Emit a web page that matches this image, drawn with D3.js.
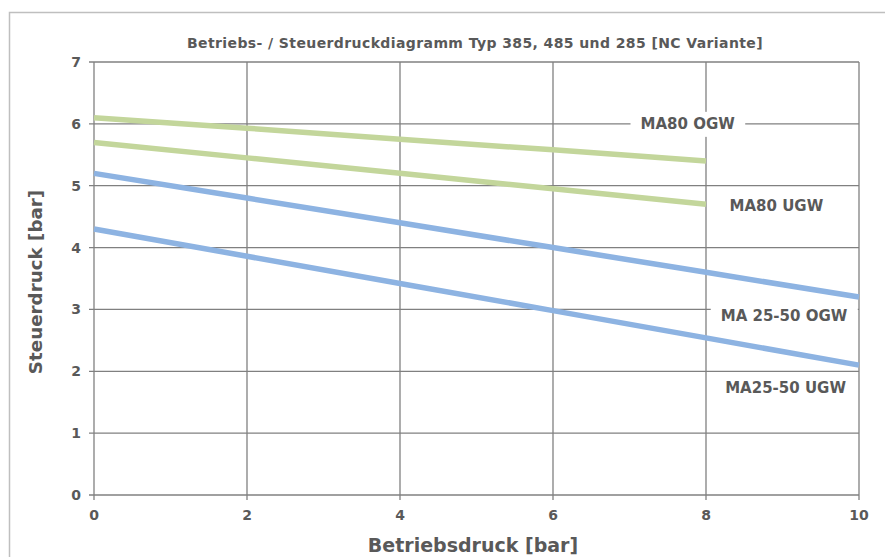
<!DOCTYPE html>
<html>
<head>
<meta charset="utf-8">
<script src="https://cdn.jsdelivr.net/npm/d3@7"></script>
<style>
  body { margin: 0; background: #fff; }
  text { font-family: "DejaVu Sans", sans-serif; font-weight: bold; fill: #595959; }
</style>
</head>
<body>
<div id="chart"></div>
<script>
// Daten
const xWerte = [0, 2, 4, 6, 8, 10];
const ma80OGW = [6.1, 5.93, 5.75, 5.58, 5.4];
const ma80UGW = [5.7, 5.45, 5.2, 4.95, 4.7];
const ma2550OGW = [5.2, 4.8, 4.4, 4.0, 3.6, 3.2];
const ma2550UGW = [4.3, 3.86, 3.42, 2.98, 2.54, 2.1];
const xTicks = [0, 2, 4, 6, 8, 10];
const yTicks = [0, 1, 2, 3, 4, 5, 6, 7];
const serien = [
  { name: "MA80 OGW", werte: ma80OGW, farbe: "#c3d69b" },
  { name: "MA80 UGW", werte: ma80UGW, farbe: "#c3d69b" },
  { name: "MA 25-50 OGW", werte: ma2550OGW, farbe: "#8db3e2" },
  { name: "MA25-50 UGW", werte: ma2550UGW, farbe: "#8db3e2" }
];
// Beschriftung der Linien (Position in Datenkoordinaten)
const labels = [
  { text: "MA80 OGW", x: 7.76, y: 6.0, box: true },
  { text: "MA80 UGW", x: 8.92, y: 4.68 },
  { text: "MA 25-50 OGW", x: 9.02, y: 2.9, box: true },
  { text: "MA25-50 UGW", x: 9.04, y: 1.74 }
];

const width = 885, height = 557;
const margin = { top: 62, right: 26, bottom: 62, left: 94 };

const svg = d3.select("#chart").append("svg").attr("width", width).attr("height", height);

// Rahmen
svg.append("path")
  .attr("d", "M9.5," + height + "V12.5H" + width)
  .attr("fill", "none").attr("stroke", "#bfbfbf").attr("stroke-width", 1.5);

const xScale = d3.scaleLinear().domain([0, 10]).range([margin.left, width - margin.right]);
const yScale = d3.scaleLinear().domain([0, 7]).range([height - margin.bottom, margin.top]);

// Gitter
svg.append("g").selectAll("line").data(yTicks).enter().append("line")
  .attr("x1", xScale(0) - 5).attr("x2", xScale(10))
  .attr("y1", d => yScale(d)).attr("y2", d => yScale(d))
  .attr("stroke", "#808080").attr("stroke-width", 1.3);
svg.append("g").selectAll("line").data(xTicks).enter().append("line")
  .attr("x1", d => xScale(d)).attr("x2", d => xScale(d))
  .attr("y1", yScale(7)).attr("y2", yScale(0) + 5)
  .attr("stroke", "#808080").attr("stroke-width", 1.3);

// Achsenbeschriftung
svg.append("g").selectAll("text").data(yTicks).enter().append("text")
  .attr("x", xScale(0) - 13).attr("y", d => yScale(d)).attr("dy", "0.36em")
  .attr("text-anchor", "end").attr("font-size", "14px").text(d => d);
svg.append("g").selectAll("text").data(xTicks).enter().append("text")
  .attr("x", d => xScale(d)).attr("y", yScale(0) + 25)
  .attr("text-anchor", "middle").attr("font-size", "14px").text(d => d);

// Linien
const line = d3.line().x((d, i) => xScale(xWerte[i])).y(d => yScale(d));
svg.append("g").selectAll("path").data(serien).enter().append("path")
  .attr("d", d => line(d.werte))
  .attr("fill", "none").attr("stroke", d => d.farbe).attr("stroke-width", 5.5);

// Linienbeschriftung
labels.forEach(l => {
  const g = svg.append("g");
  const t = g.append("text")
    .attr("x", xScale(l.x)).attr("y", yScale(l.y)).attr("dy", "0.36em")
    .attr("text-anchor", "middle").attr("font-size", "15px").text(l.text);
  if (l.box) {
    const b = t.node().getBBox();
    g.insert("rect", "text")
      .attr("x", b.x - 10).attr("y", yScale(l.y) - 12).attr("width", b.width + 20).attr("height", 25)
      .attr("fill", "#fff");
  }
});

// Titel
svg.append("text")
  .attr("x", 475).attr("y", 48)
  .attr("text-anchor", "middle").attr("font-size", "14px").attr("letter-spacing", "0.4px")
  .text("Betriebs- / Steuerdruckdiagramm Typ 385, 485 und 285 [NC Variante]");

svg.append("text")
  .attr("x", 473).attr("y", 552)
  .attr("text-anchor", "middle").attr("font-size", "19px")
  .text("Betriebsdruck [bar]");

svg.append("text")
  .attr("transform", "translate(42," + 282 + ") rotate(-90)")
  .attr("text-anchor", "middle").attr("font-size", "18.3px")
  .text("Steuerdruck [bar]");
</script>
</body>
</html>
